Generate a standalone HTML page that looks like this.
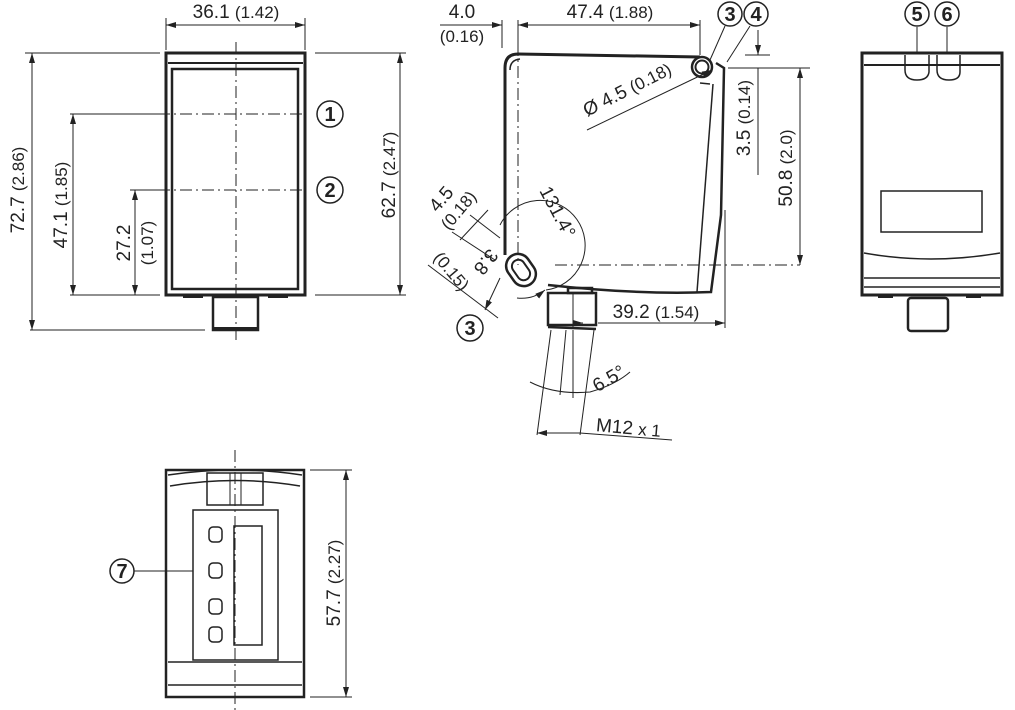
<!DOCTYPE html>
<html><head><meta charset="utf-8"><style>
html,body{margin:0;padding:0;background:#fff;}
svg{display:block;}
text{font-family:"Liberation Sans",sans-serif;fill:#222;}
</style></head><body>
<svg width="1015" height="710" viewBox="0 0 1015 710" xmlns="http://www.w3.org/2000/svg">
<defs>
<marker id="a" viewBox="0 0 10 6" refX="10" refY="3" markerWidth="10" markerHeight="6" orient="auto-start-reverse" markerUnits="userSpaceOnUse"><path d="M0,0 L10,3 L0,6 z" fill="#222"/></marker>
</defs>
<g stroke="#222" fill="none" stroke-width="1">
<!-- FRONT VIEW -->
<rect x="166" y="53" width="139" height="242" stroke-width="3"/>
<line x1="168" y1="63" x2="303" y2="63" stroke-width="2"/>
<rect x="172" y="69" width="126" height="220" stroke-width="2.5"/>
<rect x="213" y="297" width="45" height="33" stroke-width="2.5"/>
<line x1="213" y1="328" x2="258" y2="328" stroke-width="2"/>
<path d="M183 296 h20 M268 296 h20" stroke-width="4"/>
<line x1="236" y1="42" x2="236" y2="342" stroke-dasharray="12,4,2,4"/>
<line x1="158" y1="114" x2="305" y2="114" stroke-dasharray="12,4,2,4"/>
<line x1="158" y1="190" x2="305" y2="190" stroke-dasharray="12,4,2,4"/>
<circle cx="330" cy="114" r="13" stroke-width="1.5"/><circle cx="330" cy="190" r="13" stroke-width="1.5"/>
<!-- dims -->
<line x1="166" y1="18" x2="166" y2="50"/><line x1="305" y1="18" x2="305" y2="50"/>
<line x1="166" y1="25" x2="305" y2="25" marker-start="url(#a)" marker-end="url(#a)"/>
<line x1="25" y1="53" x2="160" y2="53"/><line x1="30" y1="330" x2="205" y2="330"/>
<line x1="32" y1="53" x2="32" y2="330" marker-start="url(#a)" marker-end="url(#a)"/>
<line x1="70" y1="114" x2="160" y2="114"/><line x1="70" y1="295" x2="160" y2="295"/>
<line x1="73" y1="114" x2="73" y2="295" marker-start="url(#a)" marker-end="url(#a)"/>
<line x1="130" y1="190" x2="160" y2="190"/>
<line x1="135" y1="190" x2="135" y2="295" marker-start="url(#a)" marker-end="url(#a)"/>
<line x1="315" y1="53" x2="406" y2="53"/><line x1="315" y1="295" x2="406" y2="295"/>
<line x1="400" y1="53" x2="400" y2="295" marker-start="url(#a)" marker-end="url(#a)"/>

<!-- SIDE VIEW -->
<path d="M505 255 L505 68 Q505 54 518 54 L700 57" stroke-width="3"/>
<path d="M510 70 Q510 60 520 59" stroke-width="1.5"/>
<path d="M716 63 L724 68 L721 215 L711 292 Q640 295 548 285" stroke-width="2.5"/>
<line x1="713" y1="84" x2="697" y2="292" stroke-width="1.5"/>
<path d="M700 83 L710 84" stroke-width="1.5"/>
<circle cx="702" cy="67" r="10" stroke-width="2.5"/><circle cx="702" cy="67" r="6.5" stroke-width="2"/>
<g transform="translate(521,270) rotate(55)">
<rect x="-17" y="-12" width="34" height="24" rx="12" stroke-width="2.5"/>
<rect x="-11" y="-6.5" width="22" height="13" rx="6.5" stroke-width="2"/>
</g>
<rect x="548" y="293" width="48" height="32" stroke-width="2.5"/>
<line x1="548" y1="327" x2="596" y2="329" stroke-width="2.5"/>
<line x1="573" y1="293" x2="573" y2="328"/>
<path d="M568 288 h24 v5 h-24z" stroke-width="2.5"/>
<line x1="518" y1="22" x2="518" y2="265" stroke-dasharray="12,4,2,4"/>
<line x1="555" y1="265" x2="800" y2="265" stroke-dasharray="12,4,2,4"/>
<!-- top dims -->
<line x1="502" y1="20" x2="502" y2="48"/><line x1="518" y1="20" x2="518" y2="48"/><line x1="700" y1="20" x2="700" y2="55"/>
<line x1="440" y1="25" x2="502" y2="25" marker-end="url(#a)"/>
<line x1="518" y1="25" x2="700" y2="25" marker-start="url(#a)" marker-end="url(#a)"/>
<circle cx="730" cy="14" r="12" stroke-width="1.5"/><circle cx="756" cy="14" r="12" stroke-width="1.5"/>
<line x1="725" y1="26" x2="710" y2="60"/><line x1="750" y1="26" x2="727" y2="62"/>
<line x1="587" y1="130" x2="712" y2="70" marker-end="url(#a)"/>
<line x1="745" y1="55" x2="770" y2="55"/><line x1="728" y1="68" x2="810" y2="68"/>
<line x1="758" y1="30" x2="758" y2="55" marker-end="url(#a)"/>
<line x1="758" y1="175" x2="758" y2="68"/>
<line x1="800" y1="68" x2="800" y2="265" marker-start="url(#a)" marker-end="url(#a)"/>
<line x1="725" y1="210" x2="725" y2="328"/>
<line x1="598" y1="323" x2="725" y2="323" marker-end="url(#a)"/>
<line x1="573" y1="323" x2="583" y2="323" marker-end="url(#a)"/>
<!-- 131.4 arc -->
<path d="M500 225 A45 45 0 1 1 546 290" />
<path d="M517 298 A38 38 0 0 0 545 290" marker-end="url(#a)"/>
<!-- left slot dims -->
<line x1="470" y1="215" x2="500" y2="238"/><line x1="452" y1="232" x2="495" y2="260"/>
<line x1="428" y1="265" x2="498" y2="318"/>
<line x1="488" y1="210" x2="460" y2="240"/>
<line x1="500" y1="278" x2="485" y2="310" marker-end="url(#a)"/>
<!-- connector axes -->
<line x1="551" y1="330" x2="537" y2="435"/><line x1="566" y1="330" x2="560" y2="395"/>
<line x1="573" y1="330" x2="573" y2="398"/><line x1="594" y1="330" x2="580" y2="435"/>
<path d="M530 382 Q555 395 590 392 Q615 385 630 372"/>
<line x1="537" y1="433" x2="580" y2="433" marker-start="url(#a)"/>
<line x1="580" y1="433" x2="672" y2="440"/>
<circle cx="470" cy="328" r="13" stroke-width="1.5"/>

<!-- RIGHT VIEW -->
<rect x="862" y="53" width="140" height="242" stroke-width="3"/>
<line x1="864" y1="65" x2="1000" y2="65" stroke-width="2"/>
<path d="M905 55 v15 q0 10 12 10 q11 0 12 -8 v-17" stroke-width="1.5"/>
<path d="M937 55 v15 q0 10 12 10 q11 0 11 -8 v-17" stroke-width="1.5"/>
<line x1="917" y1="27" x2="917" y2="53"/><line x1="947" y1="27" x2="947" y2="53"/>
<circle cx="917" cy="14" r="12" stroke-width="1.5"/><circle cx="947" cy="14" r="12" stroke-width="1.5"/>
<rect x="881" y="191" width="101" height="41" stroke-width="1.5"/>
<path d="M864 253 Q930 265 1000 253" stroke-width="1.5"/>
<line x1="864" y1="278" x2="1000" y2="278" stroke-width="1.5"/>
<line x1="864" y1="287" x2="1000" y2="287" stroke-width="1.5"/>
<path d="M878 296 h15 M966 296 h15" stroke-width="4"/>
<rect x="908" y="298" width="40" height="33" rx="3" stroke-width="2.5"/>

<!-- BOTTOM VIEW -->
<rect x="166" y="470" width="138" height="227" stroke-width="2.5"/>
<path d="M168 475 Q235 465 302 475 M170 486 Q235 475 300 486" stroke-width="1.5"/>
<rect x="207" y="473" width="56" height="32" stroke-width="1.5"/>
<line x1="230" y1="473" x2="230" y2="505"/><line x1="241" y1="473" x2="241" y2="505"/>
<rect x="193" y="510" width="85" height="150" stroke-width="1.5"/>
<rect x="209" y="527" width="13" height="15" rx="4" stroke-width="1.5"/>
<rect x="209" y="563" width="13" height="15" rx="4" stroke-width="1.5"/>
<rect x="209" y="599" width="13" height="15" rx="4" stroke-width="1.5"/>
<rect x="209" y="627" width="13" height="15" rx="4" stroke-width="1.5"/>
<rect x="234" y="526" width="28" height="119" stroke-width="1.5"/>
<line x1="168" y1="662" x2="302" y2="662" stroke-width="1.5"/>
<line x1="168" y1="685" x2="302" y2="685" stroke-width="1.5"/>
<line x1="235" y1="450" x2="235" y2="710" stroke-dasharray="12,4,2,4"/>
<circle cx="122" cy="571" r="12" stroke-width="1.5"/><line x1="134" y1="571" x2="193" y2="571"/>
<line x1="310" y1="470" x2="352" y2="470"/><line x1="310" y1="697" x2="352" y2="697"/>
<line x1="346" y1="470" x2="346" y2="697" marker-start="url(#a)" marker-end="url(#a)"/>
</g>

<g font-size="19">
<text x="236" y="18" text-anchor="middle">36.1 <tspan font-size="17">(1.42)</tspan></text>
<text x="330" y="121" text-anchor="middle" font-size="20" font-weight="bold">1</text>
<text x="330" y="197" text-anchor="middle" font-size="20" font-weight="bold">2</text>
<text transform="translate(24,190) rotate(-90)" text-anchor="middle">72.7 <tspan font-size="17">(2.86)</tspan></text>
<text transform="translate(67,205) rotate(-90)" text-anchor="middle">47.1 <tspan font-size="17">(1.85)</tspan></text>
<text transform="translate(130,243) rotate(-90)" text-anchor="middle">27.2</text>
<text transform="translate(153,243) rotate(-90)" text-anchor="middle" font-size="17">(1.07)</text>
<text transform="translate(395,175) rotate(-90)" text-anchor="middle">62.7 <tspan font-size="17">(2.47)</tspan></text>

<text x="462" y="18" text-anchor="middle">4.0</text>
<text x="462" y="42" text-anchor="middle" font-size="17">(0.16)</text>
<text x="610" y="18" text-anchor="middle">47.4 <tspan font-size="17">(1.88)</tspan></text>
<text x="730" y="21" text-anchor="middle" font-size="20" font-weight="bold">3</text>
<text x="756" y="21" text-anchor="middle" font-size="20" font-weight="bold">4</text>
<text transform="translate(630,95) rotate(-27)" text-anchor="middle">Ø 4.5 <tspan font-size="17">(0.18)</tspan></text>
<text transform="translate(750,118) rotate(-90)" text-anchor="middle">3.5 <tspan font-size="17">(0.14)</tspan></text>
<text transform="translate(792,168) rotate(-90)" text-anchor="middle">50.8 <tspan font-size="17">(2.0)</tspan></text>
<text transform="translate(552,215) rotate(62)" text-anchor="middle">131.4°</text>
<text transform="translate(446,203) rotate(-50)" text-anchor="middle">4.5</text>
<text transform="translate(463,214) rotate(-50)" text-anchor="middle" font-size="17">(0.18)</text>
<text transform="translate(481,258) rotate(128)" text-anchor="middle">3.8</text>
<text transform="translate(447,275) rotate(50)" text-anchor="middle" font-size="17">(0.15)</text>
<text x="470" y="335" text-anchor="middle" font-size="20" font-weight="bold">3</text>
<text x="656" y="318" text-anchor="middle">39.2 <tspan font-size="17">(1.54)</tspan></text>
<text transform="translate(612,384) rotate(-30)" text-anchor="middle">6.5°</text>
<text transform="translate(628,434) rotate(5)" text-anchor="middle">M12 <tspan font-size="17">x 1</tspan></text>

<text x="917" y="21" text-anchor="middle" font-size="20" font-weight="bold">5</text>
<text x="947" y="21" text-anchor="middle" font-size="20" font-weight="bold">6</text>
<text x="122" y="578" text-anchor="middle" font-size="20" font-weight="bold">7</text>
<text transform="translate(340,583) rotate(-90)" text-anchor="middle">57.7 <tspan font-size="17">(2.27)</tspan></text>
</g>
</svg>
</body></html>
